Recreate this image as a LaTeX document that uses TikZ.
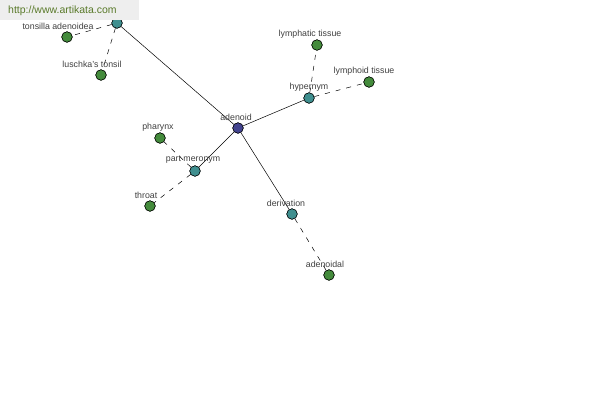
\documentclass[tikz,border=0pt]{standalone}
\usepackage{fontspec}
\setmainfont{Liberation Sans}
\begin{document}
\begin{tikzpicture}[x=1pt,y=-1pt,
  dot/.style={circle,draw=black,line width=0.5pt,minimum size=10.5pt,inner sep=0pt},
  center/.style={dot,fill=cCenter},
  rel/.style={dot,fill=cRel},
  leaf/.style={dot,fill=cLeaf},
  lbl/.style={font=\fontsize{8.8}{9}\selectfont,text=black!75,inner sep=0pt},
  solidedge/.style={draw=black,line width=0.5pt},
  dashedge/.style={draw=black,line width=0.5pt,dash pattern=on 5pt off 6pt}]
\definecolor{cCenter}{HTML}{43448F}
\definecolor{cRel}{HTML}{3F8F8F}
\definecolor{cLeaf}{HTML}{448B3C}
\definecolor{wmgray}{HTML}{EEEEEE}
\definecolor{wmtext}{HTML}{5A7A2A}
\useasboundingbox (0,0) rectangle (600,400);
\fill[white] (0,0) rectangle (600,400);
% nodes
\node[center] (adenoid) at (238,128) {};
\node[rel] (top) at (117,23) {};
\node[rel] (hyper) at (309,98) {};
\node[rel] (part) at (195,171) {};
\node[rel] (deriv) at (292,214) {};
\node[leaf] (tons) at (67,37) {};
\node[leaf] (lusch) at (101,75) {};
\node[leaf] (lymphatic) at (317,45) {};
\node[leaf] (lymphoid) at (369,82) {};
\node[leaf] (pharynx) at (160,138) {};
\node[leaf] (throat) at (150,206) {};
\node[leaf] (adenoidal) at (329,275) {};
% edges
\draw[solidedge] (adenoid) -- (top);
\draw[solidedge] (adenoid) -- (hyper);
\draw[solidedge] (adenoid) -- (part);
\draw[solidedge] (adenoid) -- (deriv);
\draw[dashedge] (top) -- (tons);
\draw[dashedge] (top) -- (lusch);
\draw[dashedge] (hyper) -- (lymphatic);
\draw[dashedge] (hyper) -- (lymphoid);
\draw[dashedge] (part) -- (pharynx);
\draw[dashedge] (part) -- (throat);
\draw[dashedge] (deriv) -- (adenoidal);
% redraw nodes on top
\foreach \n/\s in {adenoid/center,top/rel,hyper/rel,part/rel,deriv/rel,tons/leaf,lusch/leaf,lymphatic/leaf,lymphoid/leaf,pharynx/leaf,throat/leaf,adenoidal/leaf}
  \node[\s] at (\n) {};
% labels
\node[lbl] (lAdenoid) at (236,117) {adenoid};
\node[lbl] (lHyper) at (309,87) {hypernym};
\node[lbl] (lPart) at (193,160) {part meronym};
\node[lbl] (lDeriv) at (286,203) {derivation};
\node[lbl] (lTons) at (58,26) {tonsilla adenoidea};
\node[lbl] (lLusch) at (92,64) {luschka's tonsil};
\node[lbl] (lLymphatic) at (310,34) {lymphatic tissue};
\node[lbl] (lLymphoid) at (364,71) {lymphoid tissue};
\node[lbl] (lPharynx) at (158,127) {pharynx};
\node[lbl] (lThroat) at (146,195) {throat};
\node[lbl] (lAdenoidal) at (325,264) {adenoidal};
% watermark
\fill[wmgray] (0,0) rectangle (139,20);
\node[font=\fontsize{10.5}{11}\selectfont,text=wmtext,anchor=west,inner sep=0pt] (wm) at (8,10.5) {http://www.artikata.com};
\end{tikzpicture}
\end{document}
